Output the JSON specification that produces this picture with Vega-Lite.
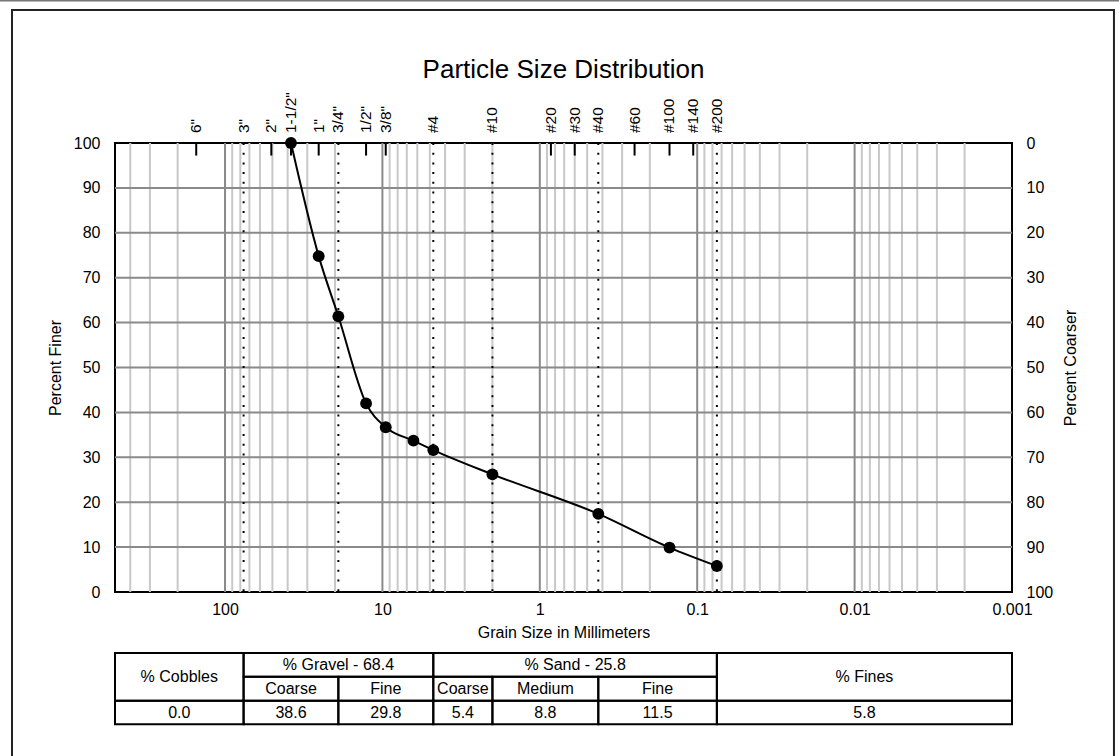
{
  "$schema": "https://vega.github.io/schema/vega-lite/v6.json",
  "width": 897,
  "height": 449,
  "autosize": {"type": "none"},
  "padding": {"left": 115, "top": 143, "right": 107, "bottom": 164},
  "background": "white",
  "config": {
    "font": "Liberation Sans",
    "view": {"stroke": "black", "strokeWidth": 2},
    "axis": {
      "labelFont": "Liberation Sans",
      "titleFont": "Liberation Sans",
      "labelFontSize": 16,
      "titleFontSize": 16,
      "titleFontWeight": "normal",
      "labelColor": "black",
      "titleColor": "black",
      "grid": false,
      "ticks": false,
      "tickSize": 0,
      "domain": false
    },
    "text": {"font": "Liberation Sans", "fontSize": 16, "color": "black"}
  },
  "title": {
    "text": "Particle Size Distribution",
    "font": "Liberation Sans",
    "fontSize": 26,
    "fontWeight": "normal",
    "color": "black",
    "anchor": "middle",
    "offset": -83
  },
  "datasets": {
    "psd": [
      {"mm": 38.1, "finer": 100},
      {"mm": 25.4, "finer": 74.8},
      {"mm": 19.05, "finer": 61.4},
      {"mm": 12.7, "finer": 42.0},
      {"mm": 9.525, "finer": 36.7},
      {"mm": 6.35, "finer": 33.7},
      {"mm": 4.75, "finer": 31.6},
      {"mm": 2.0, "finer": 26.2},
      {"mm": 0.425, "finer": 17.4},
      {"mm": 0.15, "finer": 9.9},
      {"mm": 0.075, "finer": 5.8}
    ],
    "sieves": [
      {"sieve": "6\"", "mm": 152.4, "boundary": false},
      {"sieve": "3\"", "mm": 76.2, "boundary": true},
      {"sieve": "2\"", "mm": 50.8, "boundary": false},
      {"sieve": "1-1/2\"", "mm": 38.1, "boundary": false},
      {"sieve": "1\"", "mm": 25.4, "boundary": false},
      {"sieve": "3/4\"", "mm": 19.05, "boundary": true},
      {"sieve": "1/2\"", "mm": 12.7, "boundary": false},
      {"sieve": "3/8\"", "mm": 9.525, "boundary": false},
      {"sieve": "#4", "mm": 4.75, "boundary": true},
      {"sieve": "#10", "mm": 2.0, "boundary": true},
      {"sieve": "#20", "mm": 0.85, "boundary": false},
      {"sieve": "#30", "mm": 0.6, "boundary": false},
      {"sieve": "#40", "mm": 0.425, "boundary": true},
      {"sieve": "#60", "mm": 0.25, "boundary": false},
      {"sieve": "#100", "mm": 0.15, "boundary": false},
      {"sieve": "#140", "mm": 0.106, "boundary": false},
      {"sieve": "#200", "mm": 0.075, "boundary": true}
    ],
    "decades": [{"mm": 100}, {"mm": 10}, {"mm": 1}, {"mm": 0.1}, {"mm": 0.01}],
    "subdivisions": [
      {"mm": 400}, {"mm": 300}, {"mm": 200},
      {"mm": 90}, {"mm": 80}, {"mm": 70}, {"mm": 60}, {"mm": 50}, {"mm": 40}, {"mm": 30}, {"mm": 20},
      {"mm": 9}, {"mm": 8}, {"mm": 7}, {"mm": 6}, {"mm": 5}, {"mm": 4}, {"mm": 3}, {"mm": 2},
      {"mm": 0.9}, {"mm": 0.8}, {"mm": 0.7}, {"mm": 0.6}, {"mm": 0.5}, {"mm": 0.4}, {"mm": 0.3}, {"mm": 0.2},
      {"mm": 0.09}, {"mm": 0.08}, {"mm": 0.07}, {"mm": 0.06}, {"mm": 0.05}, {"mm": 0.04}, {"mm": 0.03}, {"mm": 0.02},
      {"mm": 0.009}, {"mm": 0.008}, {"mm": 0.007}, {"mm": 0.006}, {"mm": 0.005}, {"mm": 0.004}, {"mm": 0.003}, {"mm": 0.002}
    ],
    "percents": [{"p": 10}, {"p": 20}, {"p": 30}, {"p": 40}, {"p": 50}, {"p": 60}, {"p": 70}, {"p": 80}, {"p": 90}],
    "cells": [
      {"row": "span", "text": "% Cobbles", "lo": 500, "hi": 76.2},
      {"row": "class", "text": "% Gravel - 68.4", "lo": 76.2, "hi": 4.75},
      {"row": "class", "text": "% Sand - 25.8", "lo": 4.75, "hi": 0.075},
      {"row": "span", "text": "% Fines", "lo": 0.075, "hi": 0.001},
      {"row": "sub", "text": "Coarse", "lo": 76.2, "hi": 19.05},
      {"row": "sub", "text": "Fine", "lo": 19.05, "hi": 4.75},
      {"row": "sub", "text": "Coarse", "lo": 4.75, "hi": 2.0},
      {"row": "sub", "text": "Medium", "lo": 2.0, "hi": 0.425},
      {"row": "sub", "text": "Fine", "lo": 0.425, "hi": 0.075},
      {"row": "value", "text": "0.0", "lo": 500, "hi": 76.2},
      {"row": "value", "text": "38.6", "lo": 76.2, "hi": 19.05},
      {"row": "value", "text": "29.8", "lo": 19.05, "hi": 4.75},
      {"row": "value", "text": "5.4", "lo": 4.75, "hi": 2.0},
      {"row": "value", "text": "8.8", "lo": 2.0, "hi": 0.425},
      {"row": "value", "text": "11.5", "lo": 0.425, "hi": 0.075},
      {"row": "value", "text": "5.8", "lo": 0.075, "hi": 0.001}
    ]
  },
  "resolve": {"axis": {"x": "independent", "y": "independent"}},
  "layer": [
    {
      "data": {"values": [{}]},
      "mark": {"type": "rect", "fillOpacity": 0, "stroke": "#222222", "strokeWidth": 2},
      "encoding": {
        "x": {"datum": 2256, "type": "quantitative", "axis": null, "scale": {"type": "log", "domain": [500, 0.001], "nice": false}},
        "x2": {"datum": 0.000225},
        "y": {"datum": 129.6, "type": "quantitative", "axis": null, "scale": {"domain": [0, 100], "nice": false, "zero": false}},
        "y2": {"datum": -40}
      }
    },
    {
      "data": {"values": [{}]},
      "mark": {"type": "rule", "color": "#777777", "strokeWidth": 1.5},
      "encoding": {
        "x": {"datum": 5000, "type": "quantitative", "axis": null},
        "x2": {"datum": 0.0001},
        "y": {"datum": 131.7, "type": "quantitative", "axis": null}
      }
    },
    {
      "data": {"name": "subdivisions"},
      "mark": {"type": "rule", "color": "#c8c8c8", "strokeWidth": 2},
      "encoding": {
        "x": {"field": "mm", "type": "quantitative", "axis": null},
        "y": {"datum": 0, "type": "quantitative", "axis": null},
        "y2": {"datum": 100}
      }
    },
    {
      "data": {"name": "decades"},
      "mark": {"type": "rule", "color": "#8a8a8a", "strokeWidth": 2},
      "encoding": {
        "x": {"field": "mm", "type": "quantitative", "axis": null},
        "y": {"datum": 0, "type": "quantitative", "axis": null},
        "y2": {"datum": 100}
      }
    },
    {
      "data": {"name": "percents"},
      "mark": {"type": "rule", "color": "#8a8a8a", "strokeWidth": 2},
      "encoding": {
        "y": {"field": "p", "type": "quantitative", "axis": null},
        "x": {"datum": 500, "type": "quantitative", "axis": null},
        "x2": {"datum": 0.001}
      }
    },
    {
      "data": {"name": "sieves"},
      "transform": [{"filter": "datum.boundary"}],
      "mark": {"type": "rule", "color": "black", "strokeWidth": 2, "strokeDash": [2, 7.7], "strokeCap": "butt"},
      "encoding": {
        "x": {"field": "mm", "type": "quantitative", "axis": null},
        "y": {"datum": 100, "type": "quantitative", "axis": null},
        "y2": {"datum": 0}
      }
    },
    {
      "data": {"name": "sieves"},
      "transform": [{"filter": "!datum.boundary"}],
      "mark": {"type": "rule", "color": "black", "strokeWidth": 2},
      "encoding": {
        "x": {"field": "mm", "type": "quantitative", "axis": null},
        "y": {"datum": 100, "type": "quantitative", "axis": null},
        "y2": {"datum": 97.2}
      }
    },
    {
      "data": {"name": "sieves"},
      "mark": {"type": "text", "angle": 270, "align": "left", "baseline": "middle", "dx": 10, "fontSize": 15.5},
      "encoding": {
        "x": {"field": "mm", "type": "quantitative", "axis": null},
        "y": {"datum": 100, "type": "quantitative", "axis": null},
        "text": {"field": "sieve"}
      }
    },
    {
      "data": {"name": "psd"},
      "mark": {"type": "line", "color": "black", "strokeWidth": 2, "interpolate": "monotone"},
      "encoding": {
        "x": {
          "field": "mm", "type": "quantitative",
          "scale": {"type": "log", "domain": [500, 0.001], "nice": false},
          "axis": {"orient": "bottom", "values": [100, 10, 1, 0.1, 0.01, 0.001], "format": "~g", "labelPadding": 9, "labelFlush": false, "labelOverlap": false, "title": "Grain Size in Millimeters", "titlePadding": 7}
        },
        "y": {
          "field": "finer", "type": "quantitative",
          "scale": {"domain": [0, 100], "nice": false, "zero": false},
          "axis": {"orient": "left", "values": [0, 10, 20, 30, 40, 50, 60, 70, 80, 90, 100], "labelPadding": 15, "labelOverlap": false, "labelFlush": false, "title": "Percent Finer", "titlePadding": 10}
        }
      }
    },
    {
      "data": {"name": "psd"},
      "mark": {"type": "circle", "color": "black", "size": 140, "opacity": 1},
      "encoding": {
        "x": {"field": "mm", "type": "quantitative", "axis": null},
        "y": {
          "field": "finer", "type": "quantitative",
          "axis": {"orient": "right", "values": [0, 10, 20, 30, 40, 50, 60, 70, 80, 90, 100], "labelExpr": "'' + (100 - datum.value)", "labelPadding": 14, "labelOverlap": false, "labelFlush": false, "title": "Percent Coarser", "titleAngle": 270, "titleBaseline": "top", "titlePadding": 10}
        }
      }
    },
    {
      "data": {"name": "cells"},
      "transform": [{"calculate": "sqrt(datum.lo * datum.hi)", "as": "mid"}],
      "layer": [
        {
          "transform": [{"filter": "datum.row === 'span'"}],
          "layer": [
            {
              "mark": {"type": "rect", "fillOpacity": 0, "stroke": "black", "strokeWidth": 2},
              "encoding": {
                "x": {"field": "lo", "type": "quantitative", "axis": null},
                "x2": {"field": "hi"},
                "y": {"datum": -13.59, "type": "quantitative", "axis": null},
                "y2": {"datum": -24.21}
              }
            },
            {
              "mark": {"type": "text", "align": "center", "baseline": "middle"},
              "encoding": {
                "x": {"field": "mid", "type": "quantitative", "axis": null},
                "y": {"datum": -18.93, "type": "quantitative", "axis": null},
                "text": {"field": "text"}
              }
            }
          ]
        },
        {
          "transform": [{"filter": "datum.row === 'class'"}],
          "layer": [
            {
              "mark": {"type": "rect", "fillOpacity": 0, "stroke": "black", "strokeWidth": 2},
              "encoding": {
                "x": {"field": "lo", "type": "quantitative", "axis": null},
                "x2": {"field": "hi"},
                "y": {"datum": -13.59, "type": "quantitative", "axis": null},
                "y2": {"datum": -18.86}
              }
            },
            {
              "mark": {"type": "text", "align": "center", "baseline": "middle"},
              "encoding": {
                "x": {"field": "mid", "type": "quantitative", "axis": null},
                "y": {"datum": -16.26, "type": "quantitative", "axis": null},
                "text": {"field": "text"}
              }
            }
          ]
        },
        {
          "transform": [{"filter": "datum.row === 'sub'"}],
          "layer": [
            {
              "mark": {"type": "rect", "fillOpacity": 0, "stroke": "black", "strokeWidth": 2},
              "encoding": {
                "x": {"field": "lo", "type": "quantitative", "axis": null},
                "x2": {"field": "hi"},
                "y": {"datum": -18.86, "type": "quantitative", "axis": null},
                "y2": {"datum": -24.21}
              }
            },
            {
              "mark": {"type": "text", "align": "center", "baseline": "middle"},
              "encoding": {
                "x": {"field": "mid", "type": "quantitative", "axis": null},
                "y": {"datum": -21.54, "type": "quantitative", "axis": null},
                "text": {"field": "text"}
              }
            }
          ]
        },
        {
          "transform": [{"filter": "datum.row === 'value'"}],
          "layer": [
            {
              "mark": {"type": "rect", "fillOpacity": 0, "stroke": "black", "strokeWidth": 2},
              "encoding": {
                "x": {"field": "lo", "type": "quantitative", "axis": null},
                "x2": {"field": "hi"},
                "y": {"datum": -24.21, "type": "quantitative", "axis": null},
                "y2": {"datum": -29.47}
              }
            },
            {
              "mark": {"type": "text", "align": "center", "baseline": "middle"},
              "encoding": {
                "x": {"field": "mid", "type": "quantitative", "axis": null},
                "y": {"datum": -26.84, "type": "quantitative", "axis": null},
                "text": {"field": "text"}
              }
            }
          ]
        }
      ]
    }
  ]
}
